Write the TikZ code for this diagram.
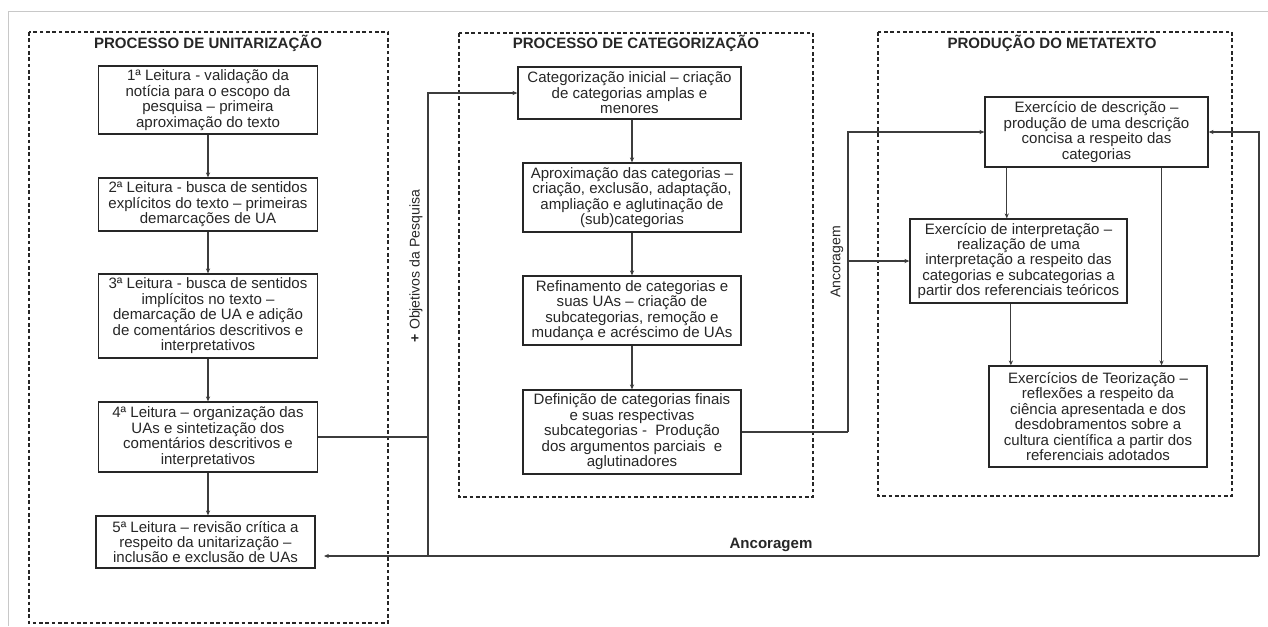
\documentclass[tikz,border=0pt]{standalone}
\usepackage{fontspec}
\setmainfont{Liberation Sans}
\usetikzlibrary{arrows.meta, calc}
\definecolor{tinta}{RGB}{38,38,38}
\definecolor{moldura}{RGB}{200,200,200}
\tikzset{%
    caixa/.style={rectangle, draw=tinta, line width=0.9pt, align=center, inner sep=1pt,
        text=tinta, font=\fontsize{10.7}{11}\selectfont},
    grupo/.style={draw=tinta, line width=0.8pt, dash pattern=on 2.6pt off 1.9pt},
    titulo/.style={text=tinta, font=\fontsize{10.7}{11}\selectfont\bfseries, inner sep=0pt},
    rot/.style={text=tinta, font=\fontsize{10}{11}\selectfont, inner sep=0pt, rotate=90},
    lig/.style={draw=tinta!90, line width=0.8pt},
    liga/.style={draw=tinta!90, line width=0.8pt, -{Stealth[length=3.5pt, width=3pt]}},
}

\begin{document}
\begin{tikzpicture}[x=0.025cm, y=-0.025cm]
    \useasboundingbox (0,0) rectangle (1268,626);
    \draw [moldura, line width=0.6pt](8,626) -- (8,11) -- (1268,11);
    % grupos
    \draw [grupo](29,32) rectangle (388,623);
    \draw [grupo](459,33) rectangle (813,497);
    \draw [grupo](878,32) rectangle (1232,496);
    \node [titulo] (tU) at (208,43) {PROCESSO DE UNITARIZAÇÃO};
    \node [titulo] (tC) at (636,43) {PROCESSO DE CATEGORIZAÇÃO};
    \node [titulo] (tM) at (1052,43) {PRODUÇÃO DO METATEXTO};
    % unitarizacao
    \node [caixa, minimum width=5.475cm, minimum height=1.7cm] (B1) at (208,100)
        {1ª Leitura - validação da\\notícia para o escopo da\\pesquisa – primeira\\aproximação do texto};
    \node [caixa, minimum width=5.475cm, minimum height=1.325cm] (B2) at (208,204.5)
        {2ª Leitura - busca de sentidos\\explícitos do texto – primeiras\\demarcações de UA};
    \node [caixa, minimum width=5.475cm, minimum height=2.1cm] (B3) at (208,316)
        {3ª Leitura - busca de sentidos\\implícitos no texto –\\demarcação de UA e adição\\de comentários descritivos e\\interpretativos};
    \node [caixa, minimum width=5.475cm, minimum height=1.75cm] (B4) at (208,437)
        {4ª Leitura – organização das\\UAs e sintetização dos\\comentários descritivos e\\interpretativos};
    \node [caixa, minimum width=5.475cm, minimum height=1.3cm] (B5) at (205.5,542)
        {5ª Leitura – revisão crítica a\\respeito da unitarização –\\inclusão e exclusão de UAs};
    % categorizacao
    \node [caixa, minimum width=5.575cm, minimum height=1.3cm] (C1) at (629.5,93)
        {Categorização inicial – criação\\de categorias amplas e\\menores};
    \node [caixa, minimum width=5.45cm, minimum height=1.725cm] (C2) at (632,197.5)
        {Aproximação das categorias –\\criação, exclusão, adaptação,\\ampliação e aglutinação de\\(sub)categorias};
    \node [caixa, minimum width=5.45cm, minimum height=1.725cm] (C3) at (632,310.5)
        {Refinamento de categorias e\\suas UAs – criação de\\subcategorias, remoção e\\mudança e acréscimo de UAs};
    \node [caixa, minimum width=5.45cm, minimum height=2.1cm] (C4) at (632,432)
        {Definição de categorias finais\\e suas respectivas\\subcategorias -\ \ Produção\\dos argumentos parciais\ \ e\\aglutinadores};
    % metatexto
    \node [caixa, minimum width=5.575cm, minimum height=1.75cm] (D1) at (1096.5,132)
        {Exercício de descrição –\\produção de uma descrição\\concisa a respeito das\\categorias};
    \node [caixa, minimum width=5.425cm, minimum height=2.1cm] (D2) at (1018.5,261)
        {Exercício de interpretação –\\realização de uma\\interpretação a respeito das\\categorias e subcategorias a\\partir dos referenciais teóricos};
    \node [caixa, minimum width=5.45cm, minimum height=2.525cm] (D3) at (1098,416.5)
        {Exercícios de Teorização –\\reflexões a respeito da\\ciência apresentada e dos\\desdobramentos sobre a\\cultura científica a partir dos\\referenciais adotados};
    % fluxos
    \foreach \a/\b in {B1/B2, B2/B3, B3/B4}
        \draw [liga](\a) -- (\b);
    \draw [liga](B4.south) -- (B4.south |- B5.north);
    \foreach \a/\b in {C1/C2, C2/C3, C3/C4}
        \draw [liga](\b.north |- \a.south) -- (\b.north);
    \coordinate (d12) at ($(D1.south west)!0.1!(D1.south east)$);
    \coordinate (d13) at ($(D1.south west)!0.79!(D1.south east)$);
    \coordinate (d23) at ($(D2.south west)!0.465!(D2.south east)$);
    \draw [liga](d12) -- (d12 |- D2.north);
    \draw [liga](d13) -- (d13 |- D3.north);
    \draw [liga](d23) -- (d23 |- D3.north);
    % objetivos e ancoragem
    \coordinate (obj) at (428,556);
    \coordinate (ancm) at (848,432);
    \coordinate (anc) at (1259,556);
    \coordinate (b5f) at (324,556);
    \draw [lig](B4.east) -- (B4.east -| obj);
    \draw [liga](obj) |- (C1.west);
    \node [rot] (lObj) at (416,266) {\textbf{+} Objetivos da Pesquisa};
    \draw [lig](C4.east) -- (ancm);
    \draw [liga](ancm) |- (D1.west);
    \draw [liga](ancm |- D2.west) -- (D2.west);
    \node [rot] (lAnc) at (837,262) {Ancoragem};
    \draw [liga](anc) |- (D1.east);
    \draw [liga](anc) -- (b5f);
    \node [titulo] (lAnc2) at (771,545) {Ancoragem};
\end{tikzpicture}
\end{document}
